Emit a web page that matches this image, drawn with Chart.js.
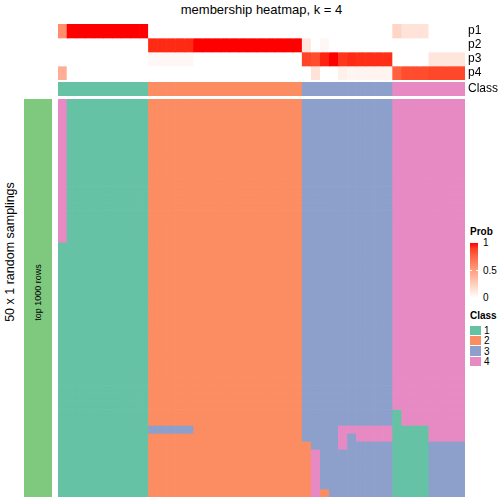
<!DOCTYPE html>
<html>
<head>
<meta charset="utf-8">
<script src="https://cdn.jsdelivr.net/npm/chart.js@4.4.0/dist/chart.umd.min.js"></script>
<style>
  body { margin: 0; background: #fff; font-family: "Liberation Sans", Arial, sans-serif; color: #000; }
  #wrap { position: relative; width: 504px; height: 504px; overflow: hidden; }
  .abs { position: absolute; }
  #title { left: 0; width: 523px; top: 2px; font-size: 13px; line-height: 15px; text-align: center; }
  #sideTitle { left: -90px; top: 245px; width: 200px; height: 14px; line-height: 14px; font-size: 12.5px; text-align: center; transform: rotate(-90deg); }
  #rowBar { left: 24px; top: 99px; width: 28px; height: 398px; background: #7FC97F; }
  #rowBarText { left: -12px; top: 287px; width: 100px; height: 11px; line-height: 11px; font-size: 9px; text-align: center; transform: rotate(-90deg); }
  .legTitle { font-size: 10px; font-weight: bold; line-height: 12px; }
  .legLab { font-size: 10px; line-height: 12px; }
</style>
</head>
<body>
<div id="wrap">
  <div class="abs" id="title">membership heatmap, k = 4</div>
  <div class="abs" id="sideTitle">50 x 1 random samplings</div>
  <div class="abs" id="rowBar"></div>
  <div class="abs" id="rowBarText">top 1000 rows</div>
  <div class="abs" style="left:58px;top:24px;"><canvas id="probChart" width="446" height="56"></canvas></div>
  <div class="abs" style="left:58px;top:82px;"><canvas id="classChart" width="446" height="14"></canvas></div>
  <div class="abs" style="left:58px;top:99px;"><canvas id="mainChart" width="407" height="398"></canvas></div>
  <div id="legend"></div>
</div>
<script>
// 45 samples, in the column order of the heatmap
var classNames = ['1', '2', '3', '4'];
var classColors = ['#66C2A5', '#FC8D62', '#8DA0CB', '#E78AC3'];
var probNames = ['p1', 'p2', 'p3', 'p4'];
var probTicks = [1, 0.5, 0];

var sampleClass = [1,1,1,1,1,1,1,1,1,1,
                   2,2,2,2,2,2,2,2,2,2,2,2,2,2,2,2,2,
                   3,3,3,3,3,3,3,3,3,3,
                   4,4,4,4,4,4,4,4];

var p1 = [0.58, 1,1,1,1,1,1,1,1,1,
          0,0,0,0,0, 0,0,0,0,0,0,0,0,0,0,0,0,
          0,0,0,0,0,0,0,0,0,0,
          0.22, 0.15,0.15,0.15, 0,0,0,0];
var p2 = [0, 0,0,0,0,0,0,0,0,0,
          0.95,0.95,0.95,0.95,0.95, 1,1,1,1,1,1,1,1,1,1,1,1,
          0.12,0,0.04,0,0,0,0,0,0,0,
          0, 0,0,0, 0,0,0,0];
var p3 = [0, 0,0,0,0,0,0,0,0,0,
          0.04,0.04,0.04,0.04,0.04, 0,0,0,0,0,0,0,0,0,0,0,0,
          0.88,0.85,0.96,1,0.92,0.95,0.94,0.94,0.94,0.94,
          0, 0,0,0, 0.13,0.13,0.13,0.13];
var p4 = [0.42, 0,0,0,0,0,0,0,0,0,
          0,0,0,0,0, 0,0,0,0,0,0,0,0,0,0,0,0,
          0,0.15,0,0,0.08,0.05,0.06,0.06,0.06,0.06,
          0.78, 0.85,0.85,0.85, 0.87,0.87,0.87,0.87];

// class of every sample in each of the 50 samplings (one string per row)
var membership = [
  "4111111111 22222222222222222 3333333333 44444444",
  "4111111111 22222222222222222 3333333333 44444444",
  "4111111111 22222222222222222 3333333333 44444444",
  "4111111111 22222222222222222 3333333333 44444444",
  "4111111111 22222222222222222 3333333333 44444444",
  "4111111111 22222222222222222 3333333333 44444444",
  "4111111111 22222222222222222 3333333333 44444444",
  "4111111111 22222222222222222 3333333333 44444444",
  "4111111111 22222222222222222 3333333333 44444444",
  "4111111111 22222222222222222 3333333333 44444444",
  "4111111111 22222222222222222 3333333333 44444444",
  "4111111111 22222222222222222 3333333333 44444444",
  "4111111111 22222222222222222 3333333333 44444444",
  "4111111111 22222222222222222 3333333333 44444444",
  "4111111111 22222222222222222 3333333333 44444444",
  "4111111111 22222222222222222 3333333333 44444444",
  "4111111111 22222222222222222 3333333333 44444444",
  "4111111111 22222222222222222 3333333333 44444444",
  "1111111111 22222222222222222 3333333333 44444444",
  "1111111111 22222222222222222 3333333333 44444444",
  "1111111111 22222222222222222 3333333333 44444444",
  "1111111111 22222222222222222 3333333333 44444444",
  "1111111111 22222222222222222 3333333333 44444444",
  "1111111111 22222222222222222 3333333333 44444444",
  "1111111111 22222222222222222 3333333333 44444444",
  "1111111111 22222222222222222 3333333333 44444444",
  "1111111111 22222222222222222 3333333333 44444444",
  "1111111111 22222222222222222 3333333333 44444444",
  "1111111111 22222222222222222 3333333333 44444444",
  "1111111111 22222222222222222 3333333333 44444444",
  "1111111111 22222222222222222 3333333333 44444444",
  "1111111111 22222222222222222 3333333333 44444444",
  "1111111111 22222222222222222 3333333333 44444444",
  "1111111111 22222222222222222 3333333333 44444444",
  "1111111111 22222222222222222 3333333333 44444444",
  "1111111111 22222222222222222 3333333333 44444444",
  "1111111111 22222222222222222 3333333333 44444444",
  "1111111111 22222222222222222 3333333333 44444444",
  "1111111111 22222222222222222 3333333333 44444444",
  "1111111111 22222222222222222 3333333333 14444444",
  "1111111111 22222222222222222 3333333333 14444444",
  "1111111111 33333222222222222 3333444444 11114444",
  "1111111111 22222222222222222 3333434444 11114444",
  "1111111111 22222222222222222 2333433333 11113333",
  "1111111111 22222222222222222 2433333333 11113333",
  "1111111111 22222222222222222 2433333333 11113333",
  "1111111111 22222222222222222 2433333333 11113333",
  "1111111111 22222222222222222 2433333333 11113333",
  "1111111111 22222222222222222 2433333333 11113333",
  "1111111111 22222222222222222 2423333333 11113333"
];

// white -> red, interpolated in LAB like colorRamp2
function probColor(v) {
    var L = 100 + (53.24 - 100) * v, A = 80.09 * v, B = 67.20 * v;
    var fy = (L + 16) / 116, fx = fy + A / 500, fz = fy - B / 200;
    function finv(t) { return t > 6 / 29 ? t * t * t : 3 * (6 / 29) * (6 / 29) * (t - 4 / 29); }
    var X = 0.95047 * finv(fx), Y = finv(fy), Z = 1.08883 * finv(fz);
    var r = 3.2406 * X - 1.5372 * Y - 0.4986 * Z;
    var g = -0.9689 * X + 1.8758 * Y + 0.0415 * Z;
    var b = 0.0557 * X - 0.2040 * Y + 1.0570 * Z;
    function gam(c) {
        c = Math.min(1, Math.max(0, c));
        return Math.round(255 * (c <= 0.0031308 ? 12.92 * c : 1.055 * Math.pow(c, 1 / 2.4) - 0.055));
    }
    return 'rgb(' + gam(r) + ',' + gam(g) + ',' + gam(b) + ')';
}

var cols = sampleClass.map(function (c, i) { return 'S' + (i + 1); });
var font = { family: '"Liberation Sans", Arial, sans-serif', size: 12 };

function baseOptions(yMax, labels) {
    var scales = {
        x: { type: 'category', display: false },
        y: { type: 'linear', display: false, min: 0, max: yMax, reverse: true }
    };
    if (labels) {
        scales.yl = {
            type: 'category', labels: labels, position: 'right', offset: true,
            grid: { display: false, drawTicks: false }, border: { display: false },
            ticks: { color: '#000', font: font, padding: 3, autoSkip: false },
            afterFit: function (axis) {
                // keep the row labels from shrinking the strip
                axis.width = 39;
                axis.paddingTop = 0;
                axis.paddingBottom = 0;
            }
        };
    }
    return {
        responsive: false, animation: false,
        layout: { padding: 0 },
        plugins: { legend: { display: false }, tooltip: { enabled: false } },
        datasets: { bar: { grouped: false, barPercentage: 1, categoryPercentage: 1, borderWidth: 0 } },
        scales: scales
    };
}

// p1..p4 annotation
var probSeries = [p1, p2, p3, p4];
new Chart(document.getElementById('probChart'), {
    type: 'bar',
    data: {
        labels: cols,
        datasets: probSeries.map(function (s, r) {
            return {
                label: probNames[r],
                data: s.map(function () { return [r, r + 1]; }),
                backgroundColor: s.map(probColor)
            };
        })
    },
    options: baseOptions(4, probNames)
});

// Class annotation
new Chart(document.getElementById('classChart'), {
    type: 'bar',
    data: {
        labels: cols,
        datasets: [{
            label: 'Class',
            data: sampleClass.map(function () { return [0, 1]; }),
            backgroundColor: sampleClass.map(function (k) { return classColors[k - 1]; })
        }]
    },
    options: baseOptions(1, ['Class'])
});

// membership heatmap, one dataset per sampling
new Chart(document.getElementById('mainChart'), {
    type: 'bar',
    data: {
        labels: cols,
        datasets: membership.map(function (row, r) {
            var ks = row.replace(/ /g, '').split('');
            return {
                label: 'run ' + (r + 1),
                data: ks.map(function () { return [r, r + 1]; }),
                backgroundColor: ks.map(function (k) { return classColors[+k - 1]; })
            };
        })
    },
    options: baseOptions(membership.length)
});

// legends
var leg = document.getElementById('legend');
function addDiv(css, cls, text) {
    var d = document.createElement('div');
    d.className = 'abs ' + (cls || '');
    d.style.cssText = css;
    if (text !== undefined) d.textContent = text;
    leg.appendChild(d);
    return d;
}
addDiv('left:470px;top:226px;', 'legTitle', 'Prob');
var stops = [];
for (var i = 0; i <= 10; i++) stops.push(probColor(1 - i / 10) + ' ' + (i * 10) + '%');
var barTop = 242.5, barH = 55;
addDiv('left:470px;top:' + barTop + 'px;width:8px;height:' + barH + 'px;background:linear-gradient(to bottom,' + stops.join(',') + ');');
probTicks.forEach(function (t) {
    var y = barTop + (1 - t) * barH;
    addDiv('left:470px;top:' + (y - 0.5) + 'px;width:2px;height:1px;background:#fff;');
    addDiv('left:476px;top:' + (y - 0.5) + 'px;width:2px;height:1px;background:#fff;');
    addDiv('left:483px;top:' + (y - 5.5) + 'px;', 'legLab', String(t));
});
addDiv('left:470px;top:310px;', 'legTitle', 'Class');
classNames.forEach(function (n, i) {
    var y = 325.5 + i * 10.4;
    addDiv('left:470px;top:' + y + 'px;width:10.5px;height:9.6px;background:' + classColors[i] + ';');
    addDiv('left:484px;top:' + (y - 0.5) + 'px;', 'legLab', n);
});
</script>
</body>
</html>
